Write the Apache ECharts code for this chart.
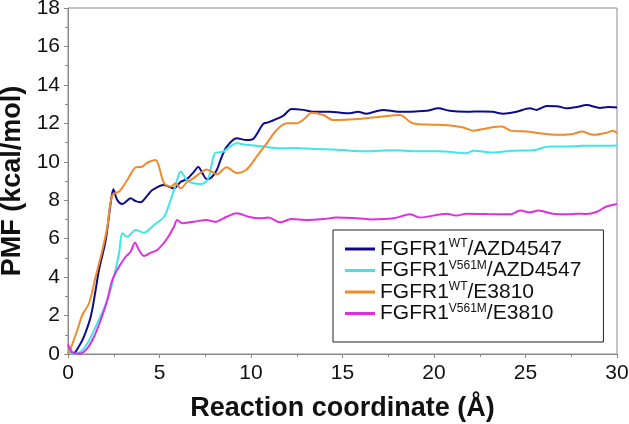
<!DOCTYPE html>
<html><head><meta charset="utf-8">
<script src="https://cdn.jsdelivr.net/npm/echarts@6/dist/echarts.min.js"></script>
<style>html,body{margin:0;padding:0;background:#fff}#c{width:629px;height:424px}</style>
</head><body><div id="c"></div>
<script>
const seriesNames = ['FGFR1WT/AZD4547','FGFR1V561M/AZD4547','FGFR1WT/E3810','FGFR1V561M/E3810'];
const xTicks = [0,5,10,15,20,25,30];
const yTicks = [0,2,4,6,8,10,12,14,16,18];
const wtAZD = [[0,0.1],[0.3,0.05],[0.6,0.4],[0.87,0.9],[1.24,1.94],[1.51,3.33],[1.69,4.37],[2.06,5.93],[2.33,7.84],[2.48,8.57],[2.69,8.01],[2.97,7.8],[3.2,7.95],[3.42,8.1],[3.7,7.95],[3.97,7.9],[4.3,8.2],[4.61,8.53],[5.25,8.79],[5.79,8.62],[6.16,8.96],[6.5,9.1],[6.89,9.49],[7.12,9.73],[7.35,9.4],[7.58,9.1],[7.85,9.2],[8.13,9.57],[8.4,10.26],[8.67,10.78],[9.22,11.22],[9.76,11.13],[10.13,11.2],[10.67,11.97],[10.94,12.05],[11.4,12.23],[11.77,12.4],[12.22,12.75],[12.86,12.7],[13.4,12.6],[14.32,12.6],[14.9,12.55],[15.4,12.52],[15.85,12.6],[16.3,12.5],[17.2,12.7],[18.1,12.6],[19.0,12.62],[19.6,12.65],[20.24,12.78],[20.85,12.65],[21.77,12.6],[22.68,12.62],[23.2,12.6],[23.79,12.5],[24.5,12.6],[25.25,12.78],[25.6,12.7],[26.16,12.9],[26.8,12.88],[27.25,12.78],[27.8,12.85],[28.34,12.95],[29.07,12.8],[29.5,12.85],[30,12.83]];
const v561mAZD = [[0,0.1],[0.3,0],[0.69,0.12],[1.06,0.55],[1.6,1.59],[2.15,2.81],[2.51,4.02],[2.79,5.24],[2.97,6.28],[3.24,6.1],[3.7,6.45],[4.15,6.31],[4.7,6.71],[5.25,7.14],[5.61,8.01],[5.88,8.79],[6.16,9.49],[6.49,9.05],[6.85,8.88],[7.3,8.84],[7.67,9.14],[8.03,10.44],[8.49,10.53],[8.85,10.79],[9.22,10.96],[9.76,10.88],[10.67,10.79],[11.58,10.7],[12.5,10.72],[13.4,10.66],[14.5,10.64],[15.4,10.58],[16.3,10.55],[17.8,10.6],[19.05,10.55],[20.3,10.55],[21.8,10.44],[22.15,10.58],[23.2,10.48],[24.3,10.58],[25.4,10.6],[26.3,10.79],[27.25,10.79],[28.1,10.83],[29.07,10.83],[30,10.85]];
const wtE3810 = [[0,0],[0.15,0.3],[0.51,1.25],[0.78,2.03],[1.15,2.64],[1.51,4.02],[1.88,5.41],[2.15,6.62],[2.42,8.27],[2.79,8.45],[3.24,9.05],[3.7,9.71],[4.04,9.74],[4.33,9.95],[4.79,10.09],[4.97,9.75],[5.25,8.88],[5.61,8.7],[5.88,8.88],[6.16,8.62],[6.52,8.96],[6.85,9.14],[7.2,9.4],[7.58,9.6],[8.13,9.35],[8.67,9.72],[9.22,9.42],[9.76,9.6],[10.31,10.27],[10.86,10.96],[11.4,11.65],[11.95,12.0],[12.49,12.0],[12.95,12.26],[13.3,12.55],[13.95,12.43],[14.5,12.17],[15.4,12.2],[16.3,12.26],[17.2,12.35],[18.14,12.43],[18.69,12.08],[19.05,11.96],[19.96,11.93],[20.87,11.89],[21.6,11.78],[22.15,11.62],[22.9,11.75],[23.7,11.83],[24.2,11.62],[25.06,11.57],[25.8,11.48],[26.7,11.4],[27.6,11.45],[28.1,11.57],[28.7,11.4],[29.4,11.5],[29.8,11.62],[30,11.48]];
const v561mE3810 = [[0,0.5],[0.05,0.38],[0.33,0.03],[0.69,0.03],[1.06,0.3],[1.42,0.9],[1.79,1.77],[2.15,2.81],[2.42,3.85],[2.79,4.54],[3.15,5.06],[3.42,5.32],[3.66,5.79],[3.88,5.41],[4.15,5.1],[4.52,5.27],[4.88,5.41],[5.43,6.02],[5.79,6.62],[5.97,6.97],[6.25,6.8],[6.85,6.88],[7.58,6.97],[8.03,6.88],[8.67,7.14],[9.22,7.32],[9.86,7.14],[10.5,7.06],[10.95,7.1],[11.58,6.85],[12.2,7.02],[13.0,6.97],[13.95,7.02],[14.68,7.1],[15.6,7.08],[16.5,7.0],[17.8,7.06],[18.7,7.27],[19.23,7.1],[20.7,7.3],[21.2,7.2],[21.8,7.3],[22.9,7.28],[24.2,7.27],[24.7,7.46],[25.25,7.37],[25.7,7.46],[26.5,7.3],[27.4,7.27],[27.8,7.3],[28.34,7.28],[28.9,7.4],[29.4,7.66],[30,7.8]];

const legendParts = {
  'FGFR1WT/AZD4547': ['FGFR1','WT','/AZD4547'],
  'FGFR1V561M/AZD4547': ['FGFR1','V561M','/AZD4547'],
  'FGFR1WT/E3810': ['FGFR1','WT','/E3810'],
  'FGFR1V561M/E3810': ['FGFR1','V561M','/E3810']
};
const colors = ['#0b0b8e','#3de6ea','#f08a2a','#e22ee2'];
const datasets = [wtAZD, v561mAZD, wtE3810, v561mE3810];
const font = 'Arial, "Liberation Sans", sans-serif';
const chart = echarts.init(document.getElementById('c'), null, {renderer:'canvas'});
chart.setOption({
  animation:false,
  backgroundColor:'#fff',
  grid:{left:68,right:12,top:8,bottom:70,containLabel:false,outerBoundsMode:'none',show:true,borderColor:'#8a8a8a',borderWidth:1},
  xAxis:{type:'value',min:0,max:30,interval:5,
    axisLine:{lineStyle:{color:'#8a8a8a',width:1}},
    axisTick:{show:true,inside:false,length:4,lineStyle:{color:'#8a8a8a'}},
    minorTick:{show:true,splitNumber:2,length:3,lineStyle:{color:'#8a8a8a'}},
    splitLine:{show:false},
    axisLabel:{color:'#111',fontSize:21,fontFamily:font,margin:9},
    name:'Reaction coordinate (Å)',nameLocation:'middle',nameGap:41,
    nameTextStyle:{color:'#111',fontSize:27,fontWeight:'bold',fontFamily:font}},
  yAxis:{type:'value',min:0,max:18,interval:2,
    axisLine:{show:true,lineStyle:{color:'#8a8a8a',width:1}},
    axisTick:{show:true,inside:false,length:4,lineStyle:{color:'#8a8a8a'}},
    minorTick:{show:true,splitNumber:2,length:3,lineStyle:{color:'#8a8a8a'}},
    splitLine:{show:false},
    axisLabel:{color:'#111',fontSize:21,fontFamily:font,margin:8},
    name:'PMF (kcal/mol)',nameLocation:'middle',nameGap:40,
    nameTextStyle:{color:'#111',fontSize:27,fontWeight:'bold',fontFamily:font}},
  legend:{orient:'vertical',left:333,top:230,
    backgroundColor:'#fff',borderColor:'#222',borderWidth:1,
    padding:[8,22,18,12],itemGap:0,itemWidth:30,itemHeight:10,
    data:seriesNames.map((n,i)=>({name:n,itemStyle:{color:colors[i]},icon:'path://M0,4L30,4L30,7L0,7Z'})),
    formatter:function(n){const p=legendParts[n];return '{a|'+p[0]+'}{s|'+p[1]+'}{a|'+p[2]+'}';},
    textStyle:{color:'#111',fontFamily:font,rich:{
      a:{fontSize:21,fontFamily:font,color:'#111',lineHeight:22},
      s:{fontSize:12,fontFamily:font,color:'#111',verticalAlign:'top',lineHeight:22,padding:[0,0,9,0]}}}},
  series:datasets.map((d,i)=>({name:seriesNames[i],type:'line',data:d,showSymbol:false,smooth:0.3,
    lineStyle:{color:colors[i],width:2},itemStyle:{color:colors[i]}}))
});
</script></body></html>
